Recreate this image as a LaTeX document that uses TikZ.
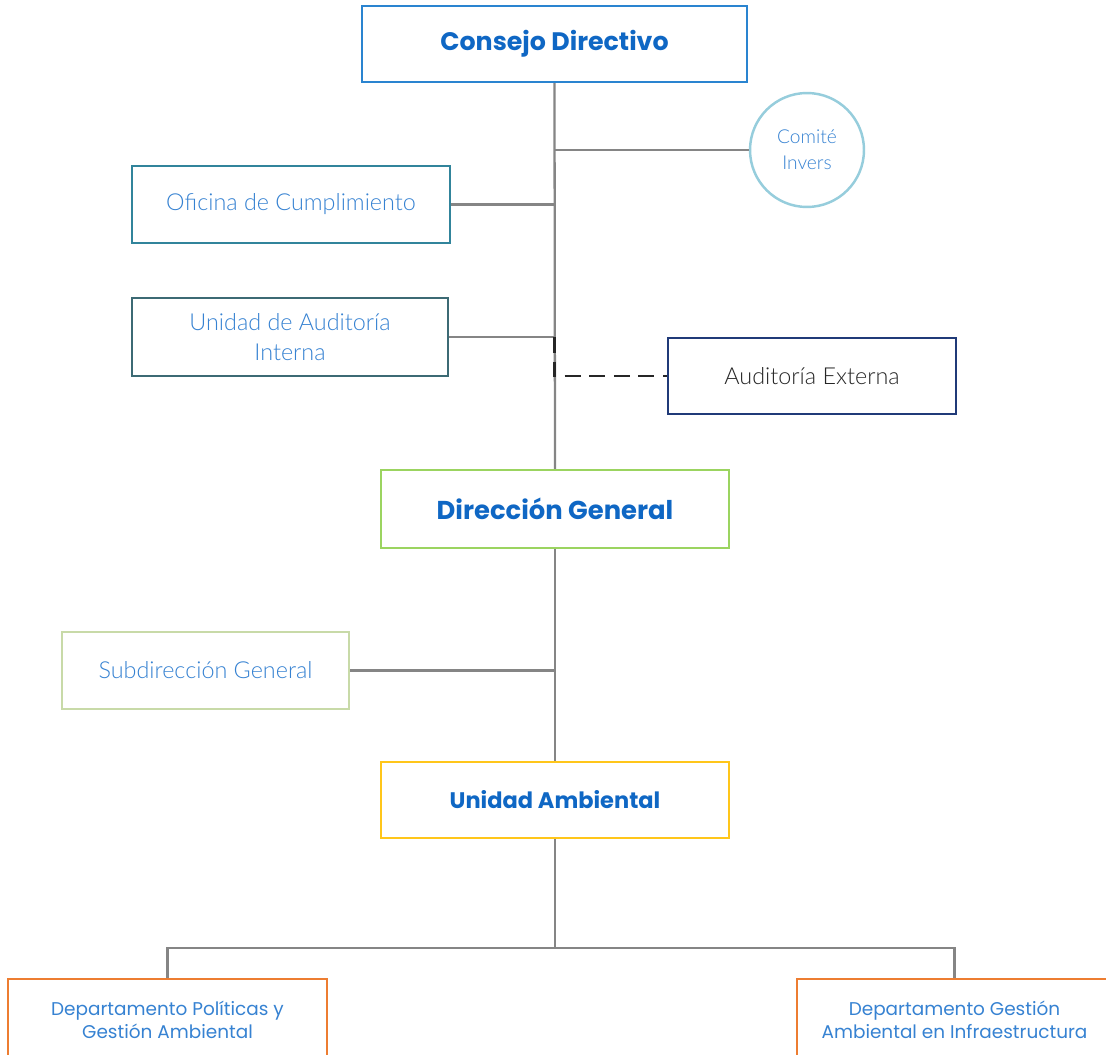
\documentclass[tikz,border=0pt]{standalone}
\usepackage{fontspec}
\setmainfont{Lato}
\newfontfamily\lightfont{Lato}[UprightFont={* Light}]
\newfontfamily\geofont{Poppins}
\usetikzlibrary{positioning}
\definecolor{boldblue}{HTML}{0F67C4}
\definecolor{lightblue}{HTML}{3682D2}
\definecolor{cConsejo}{HTML}{2A84D0}
\definecolor{cComite}{HTML}{96CDDC}
\definecolor{cOficina}{HTML}{31849B}
\definecolor{cAudInt}{HTML}{3C6A74}
\definecolor{cAudExt}{HTML}{203A78}
\definecolor{cDir}{HTML}{9BD460}
\definecolor{cSub}{HTML}{C8DAA8}
\definecolor{cAmb}{HTML}{FFC61A}
\definecolor{cDep}{HTML}{ED7D31}
\definecolor{lineGray}{HTML}{858585}
\newcommand{\lowertext}[1]{\raisebox{-2pt}{#1}}
\tikzset{
  box/.style={draw, rectangle, line width=1.4pt, fill=white, align=center, inner sep=2pt},
  titlebox/.style={box, font=\geofont\bfseries, text=boldblue},
  lightbox/.style={box, font=\lightfont\fontsize{13.3}{17}\selectfont, text=lightblue},
  depbox/.style={box, font=\geofont\fontsize{10.5}{13}\selectfont, text=lightblue},
  conn/.style={draw=lineGray, line width=1.3pt},
  dashconn/.style={draw=black!85, line width=1.3pt, dashed, dash pattern=on 9pt off 5pt}
}
\begin{document}
\begin{tikzpicture}[x=0.02cm, y=-0.02cm]
\clip (0,0) rectangle (1106,1055);
\fill[white] (0,0) rectangle (1106,1055);
% nodes
\node[titlebox, draw=cConsejo, minimum width=7.7cm, minimum height=1.52cm, font=\geofont\bfseries\fontsize{14.4}{17}\selectfont] (consejo) at (554.5,44) {\lowertext{Consejo Directivo}};
\node[circle, draw=cComite, line width=1.4pt, minimum size=2.28cm, inner sep=0pt, align=center, font=\lightfont\fontsize{10.9}{15}\selectfont, text=lightblue] (comite) at (807,150) {Comité\\Invers};
\node[lightbox, draw=cOficina, minimum width=6.36cm, minimum height=1.54cm] (oficina) at (291,204.5) {Oficina de Cumplimiento};
\node[lightbox, draw=cAudInt, minimum width=6.32cm, minimum height=1.56cm] (audint) at (290,337) {Unidad de Auditoría\\Interna};
\node[lightbox, draw=cAudExt, minimum width=5.76cm, minimum height=1.52cm, text=black!85] (audext) at (812,376) {Auditoría Externa};
\node[titlebox, draw=cDir, minimum width=6.96cm, minimum height=1.56cm, font=\geofont\bfseries\fontsize{14.7}{17}\selectfont] (dir) at (555,509) {\lowertext{Dirección General}};
\node[lightbox, draw=cSub, minimum width=5.74cm, minimum height=1.54cm] (sub) at (205.5,670.5) {Subdirección General};
\node[titlebox, draw=cAmb, minimum width=6.96cm, minimum height=1.52cm, font=\geofont\bfseries\fontsize{12.8}{15}\selectfont] (amb) at (555,800) {\lowertext{Unidad Ambiental}};
\node[depbox, draw=cDep, minimum width=6.38cm, minimum height=1.64cm] (dpol) at (167.5,1020) {Departamento Políticas y\\Gestión Ambiental};
\node[depbox, draw=cDep, minimum width=6.3cm, minimum height=1.64cm] (dges) at (954.5,1020) {Departamento Gestión\\Ambiental en Infraestructura};
% connectors
\draw[conn] (consejo.south) -- (dir.north);
\draw[conn] (comite.west) -- (comite.west -| consejo.south);
\draw[conn] (oficina.east) -- (oficina.east -| consejo.south);
\draw[conn] (audint.east) -- (audint.east -| consejo.south);
\draw[dashconn] (audint.east -| consejo.south) |- (audext.west);
\draw[conn] (dir.south) -- (amb.north);
\draw[conn] (sub.east) -- (sub.east -| dir.south);
\coordinate (bus) at (555,948);
\draw[conn] (amb.south) -- (bus);
\draw[conn] (dpol.north) |- (bus) -| (dges.north);
\end{tikzpicture}
\end{document}
